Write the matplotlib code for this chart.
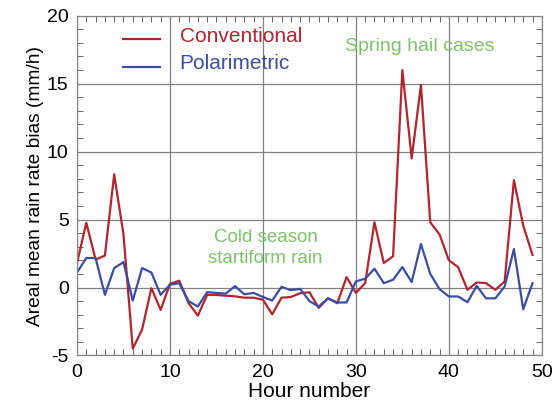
import matplotlib
matplotlib.use("Agg")
import matplotlib.pyplot as plt
from matplotlib.ticker import MultipleLocator

plt.rcParams['font.family'] = ['Liberation Sans', 'DejaVu Sans']
plt.rcParams['axes.unicode_minus'] = False

hours = list(range(50))
conventional = [1.8, 4.76, 2.05, 2.35, 8.33, 3.9, -4.5, -3.1, -0.05, -1.65,
                0.27, 0.5, -1.15, -2.07, -0.54, -0.55, -0.6, -0.65, -0.75, -0.75,
                -0.9, -1.97, -0.75, -0.7, -0.42, -0.35, -1.5, -0.8, -1.16, 0.77,
                -0.4, 0.32, 4.8, 1.8, 2.3, 16.0, 9.5, 14.9, 4.8, 3.9,
                2.0, 1.5, -0.17, 0.37, 0.32, -0.17, 0.44, 7.9, 4.56, 2.4]
polarimetric = [1.1, 2.17, 2.17, -0.54, 1.43, 1.87, -0.96, 1.43, 1.1, -0.54,
                0.2, 0.32, -1.0, -1.4, -0.34, -0.4, -0.45, 0.1, -0.5, -0.4,
                -0.7, -0.96, 0.05, -0.2, -0.1, -1.0, -1.4, -0.8, -1.1, -1.1,
                0.45, 0.65, 1.38, 0.32, 0.57, 1.5, 0.4, 3.2, 1.0, -0.12,
                -0.66, -0.66, -1.08, 0.12, -0.8, -0.8, 0.07, 2.83, -1.6, 0.32]

red = '#b3242f'
blue = '#3a4ca6'
green = '#7cc46a'

fig = plt.figure(figsize=(5.54, 4.03), dpi=100)
ax = fig.add_axes([0.139, 0.118, 0.839, 0.843])

ax.plot(hours, conventional, color=red, lw=1.6)
ax.plot(hours, polarimetric, color=blue, lw=1.6)

ax.set_xlim(0, 50)
ax.set_ylim(-5, 20)
ax.xaxis.set_major_locator(MultipleLocator(10))
ax.xaxis.set_minor_locator(MultipleLocator(1))
ax.yaxis.set_major_locator(MultipleLocator(5))
ax.yaxis.set_minor_locator(MultipleLocator(1))
ax.grid(True, which='major', color='#808080', lw=0.9)
ax.tick_params(which='both', direction='in', top=True, right=True,
               labelsize=14, color='#666666')
ax.tick_params(which='major', length=0, pad=6)
ax.tick_params(which='minor', length=4, width=0.7)
for side in ax.spines.values():
    side.set_color('#888888')
    side.set_linewidth(0.9)

ax.set_xlabel('Hour number', fontsize=15, labelpad=1)
ax.set_ylabel('Areal mean rain rate bias (mm/h)', fontsize=13.8, labelpad=2)

# legend drawn as line samples with coloured labels
ax.plot([4.95, 8.9], [18.25, 18.25], color=red, lw=1.6)
ax.plot([4.95, 8.9], [16.23, 16.23], color=blue, lw=1.6)
ax.text(11.05, 18.08, 'Conventional', color=red, fontsize=15, va='baseline')
ax.text(11.05, 16.1, 'Polarimetric', color=blue, fontsize=15, va='baseline')

ax.text(36.9, 17.7, 'Spring hail cases', color=green, fontsize=14,
        ha='center', va='center')
ax.text(20.3, 3.35, 'Cold season', color=green, fontsize=13.5,
        ha='center', va='baseline')
ax.text(20.3, 1.8, 'startiform rain', color=green, fontsize=13.5,
        ha='center', va='baseline')

fig.savefig('out.png', dpi=100)
